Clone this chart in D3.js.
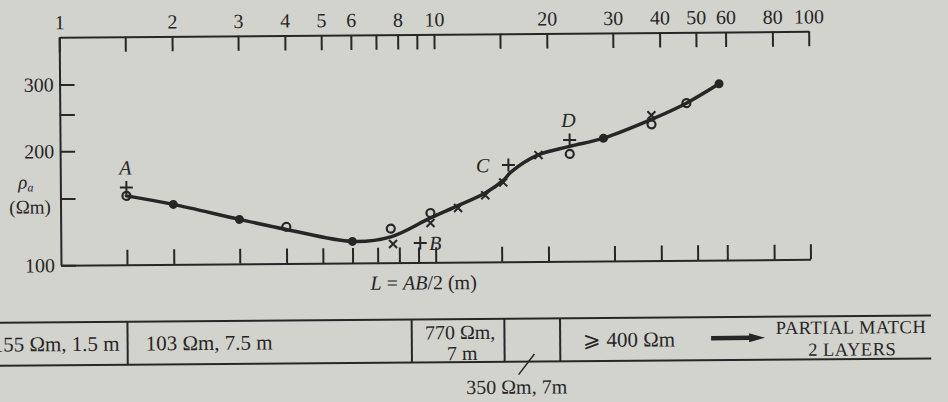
<!DOCTYPE html>
<html>
<head>
<meta charset="utf-8">
<script src="https://cdnjs.cloudflare.com/ajax/libs/d3/7.8.5/d3.min.js"></script>
<style>
  html, body { margin: 0; padding: 0; background: #d3d3ce; }
  svg { display: block; }
  text { font-family: "Liberation Serif", "Times New Roman", serif; fill: #262626; }
</style>
</head>
<body>
<svg id="chart" width="948" height="402"></svg>
<script>
// ---------- data ----------
const xTickValues = [1, 1.5, 2, 3, 4, 5, 6, 7, 8, 9, 10, 15, 20, 30, 40, 50, 60, 80, 100];
const xTickLabels = [1, 2, 3, 4, 5, 6, 8, 10, 20, 30, 40, 50, 60, 80, 100];
const yTickValues = [100, 150, 200, 250, 300];
const yTickLabels = [100, 200, 300];

// smooth fitted curve
const curveL   = [1.5, 2, 3, 4, 6, 7.6, 9.7, 11.5, 13.6, 15.2, 16, 18.8, 22.9, 28.2, 37.9, 47, 57.5];
const curveRho = [152, 144, 131, 123, 114, 117, 131, 141, 152, 164, 173, 191, 201, 211, 236, 260, 292];

// measured points by symbol
const dotL   = [2, 3, 6, 28.2, 57.5];
const dotRho = [144, 131, 114, 211, 292];
const ringL   = [1.5, 4, 7.6, 9.7, 22.9, 37.9, 47];
const ringRho = [152, 125, 123, 135, 192, 229, 260];
const crossL   = [7.7, 9.7, 11.5, 13.6, 15.2, 18.9, 37.9];
const crossRho = [112, 127, 139, 150, 162, 191, 242];
const plusL     = [1.5, 9.1, 15.7, 22.9];
const plusRho   = [160, 112.5, 180, 209];
const plusNames = ["A", "B", "C", "D"];
const plusSide  = ["above", "right", "left", "above"];

// layer interpretation strip (boundaries expressed on the L axis)
const layerBounds = [1.5, 8.6, 15.2, 21.4];
const layerText1 = "155 Ωm, 1.5 m";
const layerText2 = "103 Ωm, 7.5 m";
const layerText3 = ["770 Ωm,", "7 m"];
const layerText4 = "350 Ωm, 7m";
const layerText5 = "⩾ 400 Ωm";
const resultText = ["PARTIAL MATCH", "2 LAYERS"];

// ---------- layout ----------
const ink = "#262626";
const svg = d3.select("#chart");
svg.append("rect").attr("width", 948).attr("height", 402).attr("fill", "#d3d3ce");
const g = svg.append("g").attr("transform", "rotate(-0.45, 474, 200)");

const x = d3.scaleLog().domain([1, 100]).range([60.5, 810]);
const y = d3.scaleLog().domain([100, 400]).range([262, 34]);

function styleAxis(sel) {
  sel.select(".domain").attr("stroke", ink).attr("stroke-width", 2);
  sel.selectAll(".tick line").attr("stroke", ink).attr("stroke-width", 2);
  sel.selectAll(".tick text").attr("fill", ink)
     .style("font-family", '"Liberation Serif", serif').style("font-size", "20px");
}

// top axis
const topAxis = d3.axisTop(x).tickValues(xTickValues)
  .tickSizeInner(-15).tickSizeOuter(0).tickPadding(8)
  .tickFormat(d => xTickLabels.includes(d) ? String(d) : "");
g.append("g").attr("transform", `translate(0,${y(400)})`).call(topAxis).call(styleAxis);

// bottom axis
const botAxis = d3.axisBottom(x).tickValues(xTickValues.filter(d => d > 1))
  .tickSizeInner(-15).tickSizeOuter(0).tickFormat("");
g.append("g").attr("transform", `translate(0,${y(100)})`).call(botAxis).call(styleAxis);

// left axis
const leftAxis = d3.axisLeft(y).tickValues(yTickValues)
  .tickSizeInner(-15).tickSizeOuter(0).tickPadding(6)
  .tickFormat(d => yTickLabels.includes(d) ? String(d) : "");
g.append("g").attr("transform", `translate(${x(1)},0)`).call(leftAxis).call(styleAxis);

// axis titles
const yt = g.append("text").attr("x", 26).attr("y", 185).attr("text-anchor", "middle")
  .style("font-size", "19px");
yt.append("tspan").attr("font-style", "italic").text("ρ");
yt.append("tspan").attr("font-style", "italic").attr("dy", 3).style("font-size", "12px").text("a");
g.append("text").attr("x", 30).attr("y", 210).attr("text-anchor", "middle")
  .style("font-size", "19px").text("(Ωm)");

const xt = g.append("text").attr("x", 423).attr("y", 289).attr("text-anchor", "middle")
  .style("font-size", "20px");
xt.append("tspan").attr("font-style", "italic").text("L");
xt.append("tspan").text(" = ");
xt.append("tspan").attr("font-style", "italic").text("AB");
xt.append("tspan").text("/2 (m)");

// curve
const curvePts = curveL.map((d, i) => [d, curveRho[i]]);
const line = d3.line().x(d => x(d[0])).y(d => y(d[1])).curve(d3.curveCatmullRom.alpha(0.5));
g.append("path").datum(curvePts).attr("d", line)
  .attr("fill", "none").attr("stroke", ink).attr("stroke-width", 3.5)
  .attr("stroke-linecap", "round").attr("stroke-linejoin", "round");

// dots
g.selectAll(".dot").data(dotL.map((d, i) => [d, dotRho[i]])).join("circle")
  .attr("class", "dot").attr("cx", d => x(d[0])).attr("cy", d => y(d[1]))
  .attr("r", 4.5).attr("fill", ink);

// rings
g.selectAll(".ring").data(ringL.map((d, i) => [d, ringRho[i]])).join("circle")
  .attr("class", "ring").attr("cx", d => x(d[0])).attr("cy", d => y(d[1]))
  .attr("r", 4).attr("fill", "none").attr("stroke", ink).attr("stroke-width", 2.2);

// crosses
const cross = g.selectAll(".cross").data(crossL.map((d, i) => [d, crossRho[i]])).join("g")
  .attr("class", "cross").attr("transform", d => `translate(${x(d[0])},${y(d[1])})`);
cross.append("path").attr("d", "M-4,-4L4,4M4,-4L-4,4")
  .attr("stroke", ink).attr("stroke-width", 2);

// plus marks with letters
const plus = g.selectAll(".plus").data(plusL.map((d, i) => ({L: d, r: plusRho[i], n: plusNames[i], s: plusSide[i]})))
  .join("g").attr("class", "plus").attr("transform", d => `translate(${x(d.L)},${y(d.r)})`);
plus.append("path").attr("d", "M-6.5,0H6.5M0,-6.5V6.5").attr("stroke", ink).attr("stroke-width", 2);
plus.append("text")
  .attr("x", d => d.s === "right" ? 9 : d.s === "left" ? -19 : -1)
  .attr("y", d => d.s === "above" ? -13 : 7)
  .attr("text-anchor", d => d.s === "right" ? "start" : d.s === "left" ? "end" : "middle")
  .attr("font-style", "italic").style("font-size", "20px").text(d => d.n);

// ---------- layer strip ----------
const stripTop = 319, stripBot = 362;
const bx = layerBounds.map(d => x(d));
const strip = g.append("g");
strip.append("line").attr("x1", -10).attr("x2", 930).attr("y1", stripTop).attr("y2", stripTop)
  .attr("stroke", ink).attr("stroke-width", 2);
strip.append("line").attr("x1", -10).attr("x2", 930).attr("y1", stripBot).attr("y2", stripBot)
  .attr("stroke", ink).attr("stroke-width", 2);
strip.selectAll(".div").data(bx).join("line").attr("class", "div")
  .attr("x1", d => d).attr("x2", d => d).attr("y1", stripTop).attr("y2", stripBot)
  .attr("stroke", ink).attr("stroke-width", 2);

const mid = (stripTop + stripBot) / 2;
strip.append("text").attr("x", bx[0] - 8).attr("y", mid).attr("dy", "0.35em")
  .attr("text-anchor", "end").style("font-size", "21px").text(layerText1);
strip.append("text").attr("x", bx[0] + 18).attr("y", mid).attr("dy", "0.35em")
  .attr("text-anchor", "start").style("font-size", "21px").text(layerText2);
strip.append("text").attr("x", (bx[1] + bx[2]) / 2 + 2).attr("y", 339)
  .attr("text-anchor", "middle").style("font-size", "20px").text(layerText3[0]);
strip.append("text").attr("x", (bx[1] + bx[2]) / 2 + 4).attr("y", 360)
  .attr("text-anchor", "middle").style("font-size", "20px").text(layerText3[1]);
strip.append("text").attr("x", bx[3] + 23).attr("y", mid).attr("dy", "0.35em")
  .attr("text-anchor", "start").style("font-size", "21px").text(layerText5);

// 350 Ωm pointer
const cx4 = (bx[2] + bx[3]) / 2;
strip.append("line").attr("x1", cx4 + 2).attr("y1", 354.5).attr("x2", cx4 - 14).attr("y2", 375)
  .attr("stroke", ink).attr("stroke-width", 1.5);
strip.append("text").attr("x", cx4 - 16).attr("y", 387).attr("dy", "0.35em")
  .attr("text-anchor", "middle").style("font-size", "20px").text(layerText4);

// arrow
strip.append("line").attr("x1", 710).attr("x2", 750).attr("y1", 340).attr("y2", 340)
  .attr("stroke", ink).attr("stroke-width", 4.5);
strip.append("path").attr("d", "M748,335.5L764,340L748,344.5Z").attr("fill", ink);

strip.append("text").attr("x", 850).attr("y", 330).attr("dy", "0.35em")
  .attr("text-anchor", "middle").style("font-size", "18.5px").style("letter-spacing", "0.5px")
  .text(resultText[0]);
strip.append("text").attr("x", 851).attr("y", 352).attr("dy", "0.35em")
  .attr("text-anchor", "middle").style("font-size", "18.5px").style("letter-spacing", "0.5px")
  .text(resultText[1]);
</script>
</body>
</html>
